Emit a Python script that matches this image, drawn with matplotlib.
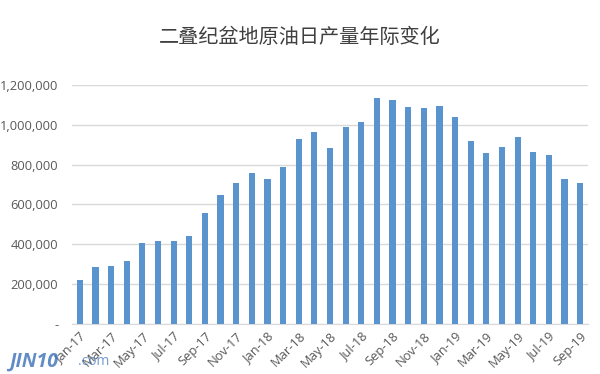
import matplotlib
matplotlib.use('Agg')
import matplotlib.pyplot as plt
import matplotlib.ticker as mticker

plt.rcParams['font.family'] = ['Open Sans', 'Noto Sans CJK SC', 'DejaVu Sans']

# Données : production journalière de pétrole brut (bassin permien)
months = ['Jan-17', 'Feb-17', 'Mar-17', 'Apr-17', 'May-17', 'Jun-17', 'Jul-17', 'Aug-17', 'Sep-17',
          'Oct-17', 'Nov-17', 'Dec-17', 'Jan-18', 'Feb-18', 'Mar-18', 'Apr-18', 'May-18', 'Jun-18',
          'Jul-18', 'Aug-18', 'Sep-18', 'Oct-18', 'Nov-18', 'Dec-18', 'Jan-19', 'Feb-19', 'Mar-19',
          'Apr-19', 'May-19', 'Jun-19', 'Jul-19', 'Aug-19', 'Sep-19']
production = [221000, 285000, 290000, 314000, 406000, 416000, 415000, 443000, 558000,
              648000, 709000, 759000, 729000, 789000, 930000, 966000, 883000, 990000,
              1016000, 1132000, 1125000, 1087000, 1083000, 1095000, 1041000, 920000, 860000,
              888000, 940000, 863000, 850000, 730000, 708000]
title = '二叠纪盆地原油日产量年际变化'

fig = plt.figure(figsize=(6, 3.74), dpi=100)
ax = fig.add_axes([0.12, 0.134, 0.86, 0.639])

x = list(range(len(months)))
ax.bar(x, production, width=0.4, color='#5A94CE', zorder=3)

ax.set_xlim(-0.5, len(months) - 0.5)
ax.set_ylim(0, 1200000)
ax.set_yticks(range(0, 1200001, 200000))
ax.yaxis.set_major_formatter(mticker.FuncFormatter(lambda v, p: '-' if v == 0 else f'{int(v):,}'))
ax.grid(axis='y', color='#D9D9D9', linewidth=1, zorder=0)

ax.set_xticks(x[::2])
ax.set_xticklabels(months[::2], rotation=45, ha='right', rotation_mode='anchor')

for side in ['top', 'right', 'left']:
    ax.spines[side].set_visible(False)
ax.spines['bottom'].set_color('#D9D9D9')
ax.tick_params(axis='both', length=0, colors='#595959', labelsize=9.3)
ax.tick_params(axis='y', pad=10)
ax.tick_params(axis='x', pad=4)

fig.text(0.5, 0.9, title, ha='center', va='center', fontsize=14.5, color='#404040',
         family=['Noto Sans CJK SC', 'DejaVu Sans'])

# filigrane
fig.text(0.015, 0.02, 'JIN10', fontsize=14, color='#3A6FB8', style='italic', weight='bold', alpha=0.8)
fig.text(0.13, 0.025, '.com', fontsize=10, color='#3A6FB8', alpha=0.7)

plt.savefig('out.png', dpi=100)
plt.close()
